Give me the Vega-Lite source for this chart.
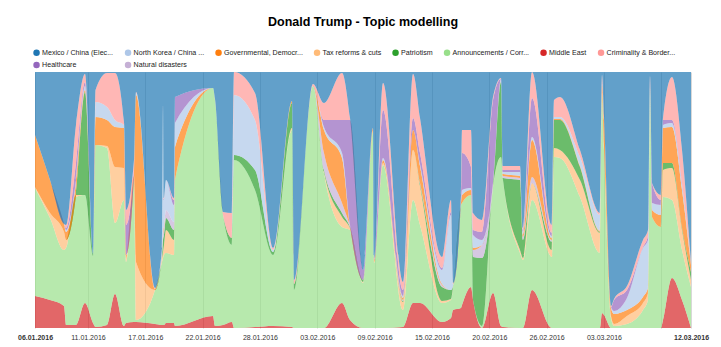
{
  "$schema": "https://vega.github.io/schema/vega-lite/v6.json",
  "width": 656,
  "height": 256,
  "autosize": {"type": "none"},
  "padding": {"left": 35, "top": 72, "right": 30, "bottom": 19},
  "background": "white",
  "title": {"text": "Donald Trump - Topic modelling", "font": "Liberation Sans", "fontSize": 12.5, "fontWeight": "bold", "color": "#000000", "anchor": "middle", "frame": "group", "offset": 21},
  "config": {"view": {"stroke": null}, "font": "Liberation Sans"},
  "datasets": {
    "topics": [
      {"key": "me", "label": "Middle East", "rank": 1},
      {"key": "ann", "label": "Announcements / Corr...", "rank": 2},
      {"key": "tax", "label": "Tax reforms & cuts", "rank": 3},
      {"key": "pat", "label": "Patriotism", "rank": 4},
      {"key": "nat", "label": "Natural disasters", "rank": 5},
      {"key": "gov", "label": "Governmental, Democr...", "rank": 6},
      {"key": "nk", "label": "North Korea / China ...", "rank": 7},
      {"key": "hea", "label": "Healthcare", "rank": 8},
      {"key": "cri", "label": "Criminality & Border...", "rank": 9},
      {"key": "mex", "label": "Mexico / China (Elec...", "rank": 10}
    ],
    "tweets": [
      {"t": "2016-01-06T00:00Z", "me": 32, "ann": 108, "tax": 1, "pat": 0, "nat": 0, "gov": 52, "nk": 0, "hea": 0, "cri": 0, "mex": 63},
      {"t": "2016-01-07T12:20Z", "me": 28, "ann": 82, "tax": 5, "pat": 0, "nat": 0, "gov": 33, "nk": 0, "hea": 0, "cri": 0, "mex": 108},
      {"t": "2016-01-08T22:15Z", "me": 22, "ann": 56, "tax": 18, "pat": 0, "nat": 0, "gov": 8, "nk": 0, "hea": 0, "cri": 0, "mex": 152},
      {"t": "2016-01-09T03:06Z", "me": 3, "ann": 77, "tax": 8, "pat": 0, "nat": 0, "gov": 8, "nk": 2, "hea": 2, "cri": 3, "mex": 153},
      {"t": "2016-01-10T03:19Z", "me": 3, "ann": 128, "tax": 2, "pat": 0, "nat": 0, "gov": 12, "nk": 3, "hea": 17, "cri": 38, "mex": 53},
      {"t": "2016-01-11T01:08Z", "me": 25, "ann": 108, "tax": 0, "pat": 103, "nat": 0, "gov": 2, "nk": 4, "hea": 4, "cri": 8, "mex": 2},
      {"t": "2016-01-11T20:31Z", "me": 5, "ann": 67, "tax": 0, "pat": 2, "nat": 0, "gov": 0, "nk": 0, "hea": 0, "cri": 0, "mex": 182},
      {"t": "2016-01-12T02:34Z", "me": 1, "ann": 182, "tax": 0, "pat": 0, "nat": 0, "gov": 28, "nk": 15, "hea": 0, "cri": 12, "mex": 18},
      {"t": "2016-01-13T06:25Z", "me": 3, "ann": 177, "tax": 2, "pat": 0, "nat": 0, "gov": 26, "nk": 13, "hea": 0, "cri": 34, "mex": 1},
      {"t": "2016-01-14T01:48Z", "me": 34, "ann": 71, "tax": 56, "pat": 0, "nat": 0, "gov": 40, "nk": 7, "hea": 0, "cri": 47, "mex": 1},
      {"t": "2016-01-14T23:36Z", "me": 2, "ann": 126, "tax": 32, "pat": 0, "nat": 0, "gov": 40, "nk": 3, "hea": 0, "cri": 3, "mex": 50},
      {"t": "2016-01-15T04:27Z", "me": 5, "ann": 61, "tax": 4, "pat": 0, "nat": 0, "gov": 3, "nk": 0, "hea": 30, "cri": 15, "mex": 138},
      {"t": "2016-01-15T23:50Z", "me": 6, "ann": 142, "tax": 4, "pat": 0, "nat": 0, "gov": 2, "nk": 0, "hea": 6, "cri": 8, "mex": 88},
      {"t": "2016-01-16T04:40Z", "me": 6, "ann": 2, "tax": 58, "pat": 0, "nat": 0, "gov": 167, "nk": 2, "hea": 0, "cri": 1, "mex": 20},
      {"t": "2016-01-18T02:42Z", "me": 4, "ann": 34, "tax": 0, "pat": 0, "nat": 0, "gov": 1, "nk": 0, "hea": 0, "cri": 1, "mex": 216},
      {"t": "2016-01-18T19:40Z", "me": 3, "ann": 63, "tax": 4, "pat": 3, "nat": 0, "gov": 0, "nk": 5, "hea": 0, "cri": 2, "mex": 176},
      {"t": "2016-01-18T22:05Z", "me": 3, "ann": 67, "tax": 6, "pat": 12, "nat": 5, "gov": 3, "nk": 122, "hea": 2, "cri": 3, "mex": 33},
      {"t": "2016-01-19T00:30Z", "me": 3, "ann": 70, "tax": 10, "pat": 10, "nat": 7, "gov": 2, "nk": 26, "hea": 1, "cri": 1, "mex": 126},
      {"t": "2016-01-19T05:21Z", "me": 5, "ann": 70, "tax": 23, "pat": 12, "nat": 8, "gov": 0, "nk": 30, "hea": 0, "cri": 0, "mex": 108},
      {"t": "2016-01-20T00:44Z", "me": 5, "ann": 68, "tax": 15, "pat": 10, "nat": 8, "gov": 0, "nk": 17, "hea": 5, "cri": 2, "mex": 126},
      {"t": "2016-01-20T03:09Z", "me": 2, "ann": 146, "tax": 0, "pat": 0, "nat": 0, "gov": 33, "nk": 24, "hea": 26, "cri": 0, "mex": 25},
      {"t": "2016-01-23T23:13Z", "me": 12, "ann": 228, "tax": 0, "pat": 0, "nat": 0, "gov": 0, "nk": 0, "hea": 0, "cri": 0, "mex": 16},
      {"t": "2016-01-24T04:03Z", "me": 2, "ann": 226, "tax": 0, "pat": 0, "nat": 0, "gov": 0, "nk": 0, "hea": 0, "cri": 1, "mex": 27},
      {"t": "2016-01-24T23:26Z", "me": 3, "ann": 110, "tax": 0, "pat": 0, "nat": 0, "gov": 0, "nk": 0, "hea": 0, "cri": 3, "mex": 140},
      {"t": "2016-01-25T21:14Z", "me": 6, "ann": 77, "tax": 0, "pat": 7, "nat": 0, "gov": 0, "nk": 0, "hea": 0, "cri": 25, "mex": 141},
      {"t": "2016-01-26T02:05Z", "me": 0, "ann": 168, "tax": 0, "pat": 5, "nat": 0, "gov": 0, "nk": 60, "hea": 0, "cri": 23, "mex": 0},
      {"t": "2016-01-28T04:57Z", "me": 1, "ann": 137, "tax": 0, "pat": 20, "nat": 0, "gov": 0, "nk": 50, "hea": 0, "cri": 27, "mex": 21},
      {"t": "2016-01-30T00:34Z", "me": 2, "ann": 71, "tax": 0, "pat": 3, "nat": 0, "gov": 0, "nk": 2, "hea": 0, "cri": 2, "mex": 176},
      {"t": "2016-01-31T22:35Z", "me": 1, "ann": 197, "tax": 2, "pat": 25, "nat": 0, "gov": 2, "nk": 0, "hea": 0, "cri": 0, "mex": 29},
      {"t": "2016-02-01T03:26Z", "me": 0, "ann": 38, "tax": 0, "pat": 6, "nat": 0, "gov": 0, "nk": 0, "hea": 0, "cri": 4, "mex": 208},
      {"t": "2016-02-03T01:28Z", "me": 0, "ann": 242, "tax": 0, "pat": 0, "nat": 0, "gov": 0, "nk": 0, "hea": 0, "cri": 2, "mex": 12},
      {"t": "2016-02-04T04:06Z", "me": 0, "ann": 155, "tax": 1, "pat": 2, "nat": 17, "gov": 23, "nk": 3, "hea": 7, "cri": 17, "mex": 31},
      {"t": "2016-02-05T23:43Z", "me": 25, "ann": 76, "tax": 10, "pat": 4, "nat": 10, "gov": 45, "nk": 5, "hea": 33, "cri": 47, "mex": 1},
      {"t": "2016-02-06T19:05Z", "me": 8, "ann": 90, "tax": 2, "pat": 1, "nat": 1, "gov": 0, "nk": 1, "hea": 105, "cri": 2, "mex": 46},
      {"t": "2016-02-08T02:35Z", "me": 0, "ann": 45, "tax": 1, "pat": 2, "nat": 0, "gov": 0, "nk": 0, "hea": 10, "cri": 0, "mex": 198},
      {"t": "2016-02-09T02:49Z", "me": 0, "ann": 196, "tax": 1, "pat": 0, "nat": 0, "gov": 3, "nk": 0, "hea": 0, "cri": 0, "mex": 56},
      {"t": "2016-02-09T05:14Z", "me": 0, "ann": 65, "tax": 1, "pat": 0, "nat": 0, "gov": 2, "nk": 0, "hea": 1, "cri": 1, "mex": 186},
      {"t": "2016-02-10T03:02Z", "me": 0, "ann": 163, "tax": 2, "pat": 0, "nat": 0, "gov": 3, "nk": 2, "hea": 48, "cri": 27, "mex": 11},
      {"t": "2016-02-12T03:29Z", "me": 1, "ann": 17, "tax": 8, "pat": 1, "nat": 1, "gov": 2, "nk": 2, "hea": 6, "cri": 8, "mex": 210},
      {"t": "2016-02-13T03:43Z", "me": 25, "ann": 103, "tax": 50, "pat": 0, "nat": 0, "gov": 20, "nk": 0, "hea": 12, "cri": 44, "mex": 2},
      {"t": "2016-02-13T20:40Z", "me": 25, "ann": 78, "tax": 39, "pat": 2, "nat": 1, "gov": 17, "nk": 2, "hea": 11, "cri": 35, "mex": 46},
      {"t": "2016-02-16T01:58Z", "me": 6, "ann": 19, "tax": 2, "pat": 14, "nat": 2, "gov": 1, "nk": 14, "hea": 2, "cri": 11, "mex": 185},
      {"t": "2016-02-16T23:46Z", "me": 10, "ann": 18, "tax": 1, "pat": 9, "nat": 0, "gov": 0, "nk": 75, "hea": 3, "cri": 12, "mex": 128},
      {"t": "2016-02-17T04:37Z", "me": 18, "ann": 22, "tax": 1, "pat": 1, "nat": 0, "gov": 0, "nk": 2, "hea": 0, "cri": 1, "mex": 211},
      {"t": "2016-02-17T23:59Z", "me": 20, "ann": 103, "tax": 0, "pat": 0, "nat": 0, "gov": 2, "nk": 0, "hea": 3, "cri": 5, "mex": 123},
      {"t": "2016-02-18T02:25Z", "me": 23, "ann": 102, "tax": 0, "pat": 0, "nat": 0, "gov": 8, "nk": 5, "hea": 37, "cri": 23, "mex": 58},
      {"t": "2016-02-19T00:13Z", "me": 41, "ann": 92, "tax": 0, "pat": 0, "nat": 0, "gov": 5, "nk": 2, "hea": 21, "cri": 37, "mex": 58},
      {"t": "2016-02-19T05:04Z", "me": 28, "ann": 0, "tax": 0, "pat": 43, "nat": 7, "gov": 2, "nk": 13, "hea": 5, "cri": 17, "mex": 141},
      {"t": "2016-02-20T02:52Z", "me": 0, "ann": 2, "tax": 0, "pat": 68, "nat": 13, "gov": 0, "nk": 5, "hea": 8, "cri": 12, "mex": 148},
      {"t": "2016-02-21T05:31Z", "me": 35, "ann": 106, "tax": 1, "pat": 1, "nat": 1, "gov": 0, "nk": 1, "hea": 83, "cri": 3, "mex": 25},
      {"t": "2016-02-22T00:53Z", "me": 2, "ann": 169, "tax": 0, "pat": 75, "nat": 2, "gov": 0, "nk": 1, "hea": 0, "cri": 1, "mex": 6},
      {"t": "2016-02-22T05:44Z", "me": 1, "ann": 147, "tax": 0, "pat": 2, "nat": 2, "gov": 2, "nk": 2, "hea": 2, "cri": 4, "mex": 94},
      {"t": "2016-02-23T22:55Z", "me": 0, "ann": 75, "tax": 3, "pat": 70, "nat": 2, "gov": 2, "nk": 4, "hea": 2, "cri": 4, "mex": 94},
      {"t": "2016-02-24T06:11Z", "me": 0, "ann": 68, "tax": 2, "pat": 18, "nat": 3, "gov": 2, "nk": 3, "hea": 2, "cri": 2, "mex": 156},
      {"t": "2016-02-25T04:00Z", "me": 38, "ann": 90, "tax": 17, "pat": 0, "nat": 6, "gov": 37, "nk": 3, "hea": 39, "cri": 26, "mex": 0},
      {"t": "2016-02-27T04:26Z", "me": 0, "ann": 71, "tax": 7, "pat": 8, "nat": 2, "gov": 2, "nk": 2, "hea": 3, "cri": 8, "mex": 153},
      {"t": "2016-02-27T09:17Z", "me": 0, "ann": 171, "tax": 9, "pat": 28, "nat": 0, "gov": 1, "nk": 2, "hea": 0, "cri": 17, "mex": 28},
      {"t": "2016-02-27T23:49Z", "me": 0, "ann": 170, "tax": 8, "pat": 30, "nat": 0, "gov": 1, "nk": 2, "hea": 0, "cri": 20, "mex": 25},
      {"t": "2016-03-01T00:16Z", "me": 0, "ann": 131, "tax": 17, "pat": 13, "nat": 0, "gov": 1, "nk": 9, "hea": 0, "cri": 7, "mex": 78},
      {"t": "2016-03-03T00:43Z", "me": 0, "ann": 75, "tax": 20, "pat": 1, "nat": 0, "gov": 1, "nk": 16, "hea": 0, "cri": 2, "mex": 141},
      {"t": "2016-03-03T05:34Z", "me": 15, "ann": 218, "tax": 2, "pat": 0, "nat": 0, "gov": 8, "nk": 1, "hea": 0, "cri": 9, "mex": 3},
      {"t": "2016-03-03T10:24Z", "me": 13, "ann": 165, "tax": 5, "pat": 0, "nat": 0, "gov": 25, "nk": 2, "hea": 0, "cri": 2, "mex": 44},
      {"t": "2016-03-04T03:22Z", "me": 0, "ann": 10, "tax": 2, "pat": 0, "nat": 0, "gov": 8, "nk": 1, "hea": 0, "cri": 1, "mex": 234},
      {"t": "2016-03-04T10:38Z", "me": 0, "ann": 2, "tax": 2, "pat": 0, "nat": 0, "gov": 10, "nk": 3, "hea": 11, "cri": 1, "mex": 227},
      {"t": "2016-03-05T18:07Z", "me": 0, "ann": 4, "tax": 8, "pat": 0, "nat": 0, "gov": 6, "nk": 12, "hea": 8, "cri": 4, "mex": 214},
      {"t": "2016-03-07T08:53Z", "me": 0, "ann": 18, "tax": 7, "pat": 0, "nat": 0, "gov": 6, "nk": 49, "hea": 1, "cri": 7, "mex": 168},
      {"t": "2016-03-07T21:00Z", "me": 0, "ann": 28, "tax": 7, "pat": 0, "nat": 0, "gov": 5, "nk": 48, "hea": 4, "cri": 6, "mex": 158},
      {"t": "2016-03-08T01:50Z", "me": 0, "ann": 238, "tax": 2, "pat": 0, "nat": 0, "gov": 1, "nk": 1, "hea": 0, "cri": 10, "mex": 4},
      {"t": "2016-03-08T06:41Z", "me": 0, "ann": 111, "tax": 0, "pat": 0, "nat": 0, "gov": 7, "nk": 7, "hea": 20, "cri": 0, "mex": 111},
      {"t": "2016-03-09T04:29Z", "me": 0, "ann": 101, "tax": 0, "pat": 0, "nat": 0, "gov": 12, "nk": 10, "hea": 5, "cri": 5, "mex": 123},
      {"t": "2016-03-09T09:20Z", "me": 8, "ann": 123, "tax": 27, "pat": 7, "nat": 0, "gov": 35, "nk": 3, "hea": 5, "cri": 2, "mex": 46},
      {"t": "2016-03-10T07:08Z", "me": 50, "ann": 78, "tax": 32, "pat": 5, "nat": 0, "gov": 36, "nk": 4, "hea": 3, "cri": 43, "mex": 5},
      {"t": "2016-03-11T07:22Z", "me": 28, "ann": 50, "tax": 20, "pat": 2, "nat": 0, "gov": 38, "nk": 5, "hea": 2, "cri": 33, "mex": 78},
      {"t": "2016-03-12T05:10Z", "me": 0, "ann": 41, "tax": 7, "pat": 8, "nat": 0, "gov": 7, "nk": 1, "hea": 0, "cri": 1, "mex": 191}
    ]
  },
  "data": {"name": "tweets"},
  "transform": [
    {"fold": ["me", "ann", "tax", "pat", "nat", "gov", "nk", "hea", "cri", "mex"], "as": ["key", "value"]},
    {"lookup": "key", "from": {"data": {"name": "topics"}, "key": "key", "fields": ["label", "rank"]}}
  ],
  "mark": {"type": "area", "interpolate": "monotone", "opacity": 0.7},
  "encoding": {
    "x": {
      "field": "t", "type": "temporal",
      "scale": {"type": "utc", "nice": false},
      "axis": {
        "title": null,
        "values": [1452038400000, 1452500000000, 1453000000000, 1453500000000, 1454000000000, 1454500000000, 1455000000000, 1455500000000, 1456000000000, 1456500000000, 1457000000000, 1457500000000, 1457759400000],
        "labelExpr": "time(datum.value) == 1457500000000 ? '' : utcFormat(datum.value, '%d.%m.%Y')",
        "labelOverlap": false, "labelFlush": false,
        "labelFont": "Liberation Sans", "labelFontSize": 7, "labelColor": "#333333",
        "labelFontWeight": {"condition": {"test": "time(datum.value) <= 1452038400000 || time(datum.value) >= 1457700000000", "value": "bold"}, "value": "normal"},
        "labelPadding": 5, "ticks": false, "tickSize": 0, "domain": false,
        "grid": true, "gridColor": "#d8d8d8", "gridWidth": 1
      }
    },
    "y": {"field": "value", "type": "quantitative", "stack": "normalize", "axis": null},
    "order": {"field": "rank", "type": "quantitative", "sort": "ascending"},
    "color": {
      "field": "label", "type": "nominal",
      "scale": {
        "domain": ["Mexico / China (Elec...", "North Korea / China ...", "Governmental, Democr...", "Tax reforms & cuts", "Patriotism", "Announcements / Corr...", "Middle East", "Criminality & Border...", "Healthcare", "Natural disasters"],
        "range": ["#1f77b4", "#aec7e8", "#ff7f0e", "#ffbb78", "#2ca02c", "#98df8a", "#d62728", "#ff9896", "#9467bd", "#c5b0d5"]
      },
      "legend": {
        "title": null, "orient": "none", "legendX": -2, "legendY": -23,
        "direction": "horizontal", "columns": 8,
        "symbolType": "circle", "symbolSize": 42, "symbolOpacity": 1, "symbolStrokeWidth": 0,
        "labelFont": "Liberation Sans", "labelFontSize": 7.1, "labelColor": "#222222",
        "labelOffset": 2, "columnPadding": 10.5, "rowPadding": 4.5, "padding": 0,
        "labelLimit": 200
      }
    }
  }
}
